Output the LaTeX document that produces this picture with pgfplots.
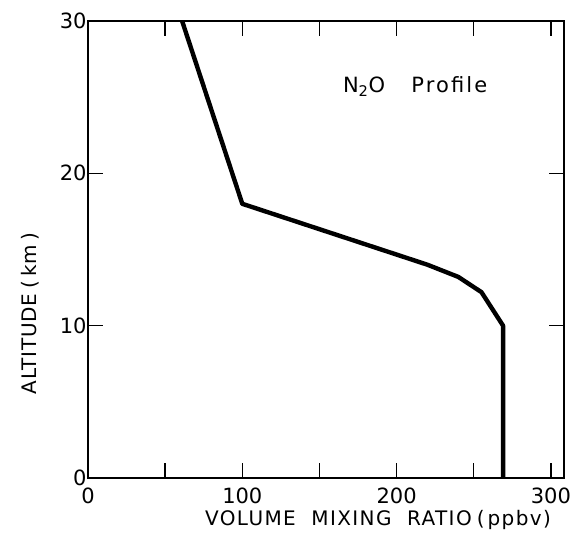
\documentclass[border=0pt]{standalone}
\usepackage{fontspec}
\setmainfont{DejaVu Sans}
\usepackage{pgfplots}
\pgfplotsset{compat=1.18}

\begin{document}
\begin{tikzpicture}
\begin{axis}[
    scale only axis,
    width=476bp, height=457bp,
    xmin=0, xmax=308.5,
    ymin=0, ymax=30,
    axis line style={line width=1.4bp},
    xtick={0,50,...,300},
    xticklabels={0,,100,,200,,300},
    ytick={0,10,20,30},
    tick align=inside,
    major tick length=15bp,
    tick style={line width=1.4bp, black},
    xtick pos=both, ytick pos=both,
    xticklabel pos=bottom, yticklabel pos=left,
    /pgf/number format/assume math mode=true,
    tick label style={font=\fontsize{21bp}{23bp}\selectfont},
    xticklabel style={yshift=-6bp},
    yticklabel style={xshift=2bp},
    xlabel={VOLUME\ \ MIXING\ \ RATIO\hspace{5bp}(\hspace{3bp}ppbv)},
    ylabel={ALTITUDE\hspace{5bp}(\hspace{4bp}km\hspace{4bp})},
    xlabel style={font=\fontsize{20bp}{22bp}\selectfont\addfontfeature{LetterSpace=7},
        xshift=52bp, yshift=0bp},
    ylabel style={font=\fontsize{20bp}{22bp}\selectfont\addfontfeature{LetterSpace=4},
        xshift=-64bp, yshift=14bp},
]
\addplot[black, line width=4.4bp, line join=round] coordinates {
    (269,0) (269,10) (255,12.2) (240,13.2) (220,14.0) (100,18) (61,30)
};
\node[anchor=west, font=\fontsize{21bp}{23bp}\selectfont\addfontfeature{LetterSpace=10}]
    at (axis cs:163,25.7) {N\textsubscript{2}O\ \ \ Profile};
\end{axis}
\path[use as bounding box] ([xshift=-88bp,yshift=-58bp]current axis.south west) rectangle ([xshift=11bp,yshift=21bp]current axis.north east);
\end{tikzpicture}
\end{document}
